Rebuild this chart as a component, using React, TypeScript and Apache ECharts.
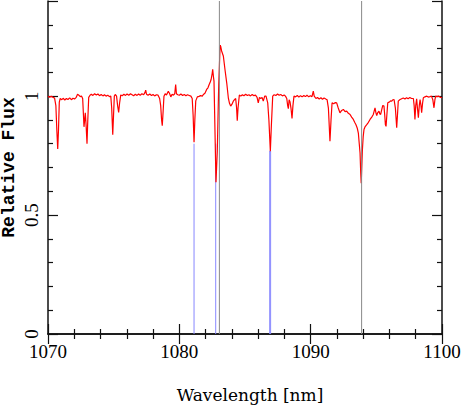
import React, { useEffect, useRef } from "react";
import * as echarts from "echarts";

// Spectrum: [wavelength nm, relative flux]
const spectrum: [number, number][] = [
  [1070.0, 0.999], [1070.12, 0.996], [1070.25, 0.999], [1070.38, 0.995], [1070.5, 0.992],
  [1070.6, 0.96], [1070.67, 0.86], [1070.74, 0.778], [1070.8, 0.86], [1070.86, 0.975],
  [1070.93, 0.99], [1071.05, 0.985], [1071.15, 0.991], [1071.28, 0.984], [1071.4, 0.99],
  [1071.52, 0.986], [1071.65, 0.993], [1071.78, 0.985], [1071.9, 0.991], [1072.02, 0.988],
  [1072.15, 0.995], [1072.25, 1.008], [1072.35, 1.004], [1072.45, 0.998], [1072.55, 1.001],
  [1072.64, 0.99], [1072.7, 0.92], [1072.74, 0.871], [1072.79, 0.9], [1072.84, 0.93],
  [1072.9, 0.88], [1072.97, 0.8], [1073.03, 0.9], [1073.1, 0.995], [1073.2, 1.004],
  [1073.3, 1.008], [1073.42, 1.003], [1073.55, 1.01], [1073.68, 1.005], [1073.8, 1.009],
  [1073.92, 1.002], [1074.05, 1.007], [1074.18, 1.001], [1074.3, 1.006], [1074.42, 1.0],
  [1074.55, 1.004], [1074.68, 0.998], [1074.78, 1.0], [1074.85, 0.95], [1074.93, 0.838],
  [1074.99, 0.92], [1075.05, 1.0], [1075.12, 1.007], [1075.22, 1.0], [1075.3, 0.96],
  [1075.38, 0.932], [1075.45, 0.97], [1075.54, 1.005], [1075.65, 1.002], [1075.78, 1.008],
  [1075.9, 1.003], [1076.02, 1.009], [1076.15, 1.004], [1076.28, 1.01], [1076.4, 1.006],
  [1076.52, 1.002], [1076.65, 1.008], [1076.78, 1.003], [1076.9, 1.009], [1077.02, 1.004],
  [1077.15, 1.01], [1077.28, 1.006], [1077.38, 1.015], [1077.44, 1.025], [1077.5, 1.008],
  [1077.62, 1.004], [1077.75, 1.009], [1077.88, 1.003], [1078.0, 1.007], [1078.12, 1.001],
  [1078.25, 1.006], [1078.38, 1.004], [1078.5, 0.99], [1078.58, 0.96], [1078.65, 0.9],
  [1078.7, 0.876], [1078.76, 0.93], [1078.83, 1.0], [1078.92, 1.01], [1079.02, 1.005],
  [1079.16, 1.02], [1079.25, 1.012], [1079.35, 0.997], [1079.45, 1.008], [1079.55, 1.004],
  [1079.65, 1.01], [1079.72, 1.049], [1079.78, 1.01], [1079.88, 1.006], [1080.0, 1.004],
  [1080.12, 1.009], [1080.25, 1.003], [1080.38, 1.007], [1080.5, 1.002], [1080.62, 1.006],
  [1080.75, 1.003], [1080.88, 1.0], [1080.98, 0.99], [1081.05, 0.92], [1081.12, 0.806],
  [1081.18, 0.9], [1081.25, 0.98], [1081.37, 0.997], [1081.5, 0.999], [1081.62, 1.002],
  [1081.75, 1.0], [1081.83, 1.007], [1081.95, 1.012], [1082.08, 1.028], [1082.18, 1.035],
  [1082.28, 1.05], [1082.34, 1.057], [1082.42, 1.07], [1082.5, 1.095], [1082.54, 1.113],
  [1082.6, 1.08], [1082.64, 1.063], [1082.72, 0.838], [1082.79, 0.638], [1082.89, 0.768],
  [1083.0, 1.05], [1083.1, 1.204], [1083.13, 1.215], [1083.22, 1.19], [1083.35, 1.169],
  [1083.48, 1.11], [1083.61, 1.055], [1083.73, 0.993], [1083.82, 0.97], [1083.91, 0.958],
  [1084.0, 0.965], [1084.11, 0.979], [1084.2, 0.985], [1084.29, 0.99], [1084.36, 0.95],
  [1084.41, 0.897], [1084.47, 0.95], [1084.57, 1.005], [1084.68, 1.0], [1084.8, 1.006],
  [1084.92, 1.002], [1085.05, 1.008], [1085.18, 1.003], [1085.3, 1.006], [1085.42, 1.001],
  [1085.55, 1.007], [1085.68, 1.002], [1085.8, 1.004], [1085.92, 0.995], [1086.01, 0.972],
  [1086.1, 0.995], [1086.2, 0.99], [1086.3, 0.995], [1086.39, 0.979], [1086.5, 1.0],
  [1086.6, 1.0], [1086.73, 0.972], [1086.82, 0.9], [1086.93, 0.768], [1087.01, 0.88],
  [1087.11, 1.0], [1087.22, 1.006], [1087.35, 1.003], [1087.48, 1.009], [1087.6, 1.004],
  [1087.72, 1.007], [1087.85, 1.001], [1087.98, 1.005], [1088.08, 1.0], [1088.18, 0.99],
  [1088.25, 0.96], [1088.3, 0.947], [1088.36, 0.985], [1088.43, 0.975], [1088.5, 0.95],
  [1088.58, 0.906], [1088.65, 0.96], [1088.73, 1.0], [1088.85, 0.997], [1088.98, 1.003],
  [1089.1, 0.996], [1089.22, 1.002], [1089.35, 0.997], [1089.48, 1.003], [1089.6, 0.998],
  [1089.72, 1.004], [1089.85, 0.997], [1089.98, 1.002], [1090.1, 0.998], [1090.2, 1.021],
  [1090.27, 1.0], [1090.4, 0.99], [1090.52, 0.994], [1090.65, 0.988], [1090.78, 0.993],
  [1090.9, 0.987], [1091.02, 0.992], [1091.15, 0.988], [1091.25, 0.985], [1091.35, 0.95],
  [1091.47, 0.81], [1091.55, 0.9], [1091.63, 0.972], [1091.75, 0.968], [1091.88, 0.973],
  [1091.98, 0.972], [1092.1, 0.95], [1092.23, 0.93], [1092.36, 0.94], [1092.49, 0.944],
  [1092.62, 0.935], [1092.74, 0.937], [1092.87, 0.928], [1093.0, 0.923], [1093.12, 0.912],
  [1093.25, 0.902], [1093.35, 0.89], [1093.45, 0.88], [1093.55, 0.865], [1093.63, 0.845],
  [1093.7, 0.8], [1093.76, 0.761], [1093.81, 0.68], [1093.85, 0.634], [1093.89, 0.7],
  [1093.94, 0.775], [1094.0, 0.83], [1094.06, 0.86], [1094.15, 0.872], [1094.27, 0.88],
  [1094.4, 0.89], [1094.52, 0.902], [1094.65, 0.912], [1094.77, 0.923], [1094.85, 0.94],
  [1094.9, 0.951], [1094.97, 0.93], [1095.03, 0.918], [1095.1, 0.93], [1095.2, 0.937],
  [1095.27, 0.925], [1095.33, 0.923], [1095.42, 0.945], [1095.49, 0.961], [1095.58, 0.958],
  [1095.64, 0.92], [1095.69, 0.88], [1095.74, 0.873], [1095.8, 0.92], [1095.87, 0.972],
  [1095.98, 0.975], [1096.08, 0.98], [1096.17, 0.979], [1096.27, 0.985], [1096.35, 0.986],
  [1096.45, 0.95], [1096.55, 0.867], [1096.62, 0.93], [1096.67, 0.979], [1096.78, 0.985],
  [1096.93, 0.989], [1097.05, 0.992], [1097.18, 0.988], [1097.3, 0.993], [1097.42, 0.989],
  [1097.55, 0.994], [1097.68, 0.99], [1097.82, 0.99], [1097.88, 0.96], [1097.94, 0.902],
  [1098.0, 0.96], [1098.07, 0.989], [1098.13, 0.95], [1098.2, 0.909], [1098.27, 0.96],
  [1098.33, 0.986], [1098.4, 0.96], [1098.45, 0.93], [1098.52, 0.97], [1098.58, 0.993],
  [1098.7, 0.997], [1098.84, 1.0], [1098.96, 0.996], [1099.09, 0.998], [1099.2, 1.0],
  [1099.3, 0.985], [1099.39, 0.951], [1099.46, 0.985], [1099.52, 1.0], [1099.62, 0.998],
  [1099.72, 1.0], [1099.85, 0.996], [1100.0, 0.993],
];

// Blue marker lines: [wavelength, top flux]
const blueLines: [number, number][] = [
  [1081.12, 0.8],
  [1082.77, 0.8],
  [1086.88, 0.77],
  [1086.95, 0.77],
];

// Grey full-height lines (wavelength)
const greyLines: number[] = [1083.05, 1093.88];

const xTicks = { min: 1070, max: 1100, interval: 10 };
const yTicks = { min: 0, max: 1.4, interval: 0.5 };
const yLabels = [0, 0.5, 1];

const TICK_FONT = "Liberation Serif";
const XNAME_FONT = "DejaVu Serif";
const YNAME_FONT = "Liberation Mono";

export default function App() {
  const ref = useRef<HTMLDivElement>(null);
  useEffect(() => {
    document.body.style.margin = "0";
    const chart = echarts.init(ref.current!, null, { renderer: "svg" });
    const axisLine = { show: true, lineStyle: { color: "#111", width: 1.5 } };
    const mkX = (pos: "bottom" | "top", labels: boolean) => ({
      type: "value",
      position: pos,
      min: xTicks.min,
      max: xTicks.max,
      interval: xTicks.interval,
      axisLine,
      axisTick: { show: true, inside: true, length: 10, lineStyle: { color: "#111", width: 1.2 } },
      minorTick: { show: true, splitNumber: 5, length: 5, lineStyle: { color: "#111", width: 1.2 } },
      splitLine: { show: false },
      axisLabel: labels
        ? {
            show: true,
            fontFamily: TICK_FONT,
            fontSize: 19,
            color: "#000",
            margin: 8,
            formatter: (v: number) => String(v),
          }
        : { show: false },
      ...(labels
        ? {
            name: "Wavelength [nm]",
            nameLocation: "middle",
            nameGap: 52,
            nameMoveOverlap: false,
            nameTextStyle: { fontFamily: XNAME_FONT, fontSize: 17, color: "#000", padding: [0, 0, 0, 10] },
          }
        : {}),
    });
    const mkY = (pos: "left" | "right", labels: boolean) => ({
      type: "value",
      position: pos,
      min: yTicks.min,
      max: yTicks.max,
      interval: yTicks.interval,
      axisLine,
      axisTick: { show: true, inside: true, length: 10, lineStyle: { color: "#111", width: 1.2 } },
      minorTick: { show: true, splitNumber: 5, length: 5, lineStyle: { color: "#111", width: 1.2 } },
      splitLine: { show: false },
      axisLabel: labels
        ? {
            show: true,
            rotate: 90,
            fontFamily: TICK_FONT,
            fontSize: 19,
            color: "#000",
            margin: 7,
            formatter: (v: number) => (yLabels.some((l) => Math.abs(l - v) < 1e-6) ? String(v) : ""),
          }
        : { show: false },
      ...(labels
        ? {
            name: "Relative Flux",
            nameLocation: "middle",
            nameRotate: 90,
            nameGap: 30,
            nameMoveOverlap: false,
            nameTextStyle: { fontFamily: YNAME_FONT, fontSize: 18, fontWeight: "bold", color: "#000" },
          }
        : {}),
    });
    const series: any[] = [];
    blueLines.forEach(([x, top]) =>
      series.push({
        type: "line",
        xAxisIndex: 0,
        yAxisIndex: 0,
        data: [[x, 0], [x, top]],
        symbol: "none",
        lineStyle: { color: "#8888ff", width: 1 },
        silent: true,
      })
    );
    series.push({
      type: "line",
      xAxisIndex: 0,
      yAxisIndex: 0,
      data: spectrum,
      symbol: "none",
      lineStyle: { color: "#ff0000", width: 1.2 },
      silent: true,
    });
    greyLines.forEach((x) =>
      series.push({
        type: "line",
        xAxisIndex: 0,
        yAxisIndex: 0,
        data: [[x, 0], [x, yTicks.max]],
        symbol: "none",
        lineStyle: { color: "#888888", width: 1 },
        silent: true,
      })
    );
    chart.setOption({
      animation: false,
      backgroundColor: "#ffffff",
      grid: { left: 48, right: 21, top: 1, bottom: 75, containLabel: false, outerBoundsMode: "none" },
      xAxis: [mkX("bottom", true), mkX("top", false)],
      yAxis: [mkY("left", true), mkY("right", false)],
      series,
    });
    return () => chart.dispose();
  }, []);
  return <div ref={ref} style={{ width: 463, height: 409 }} />;
}
